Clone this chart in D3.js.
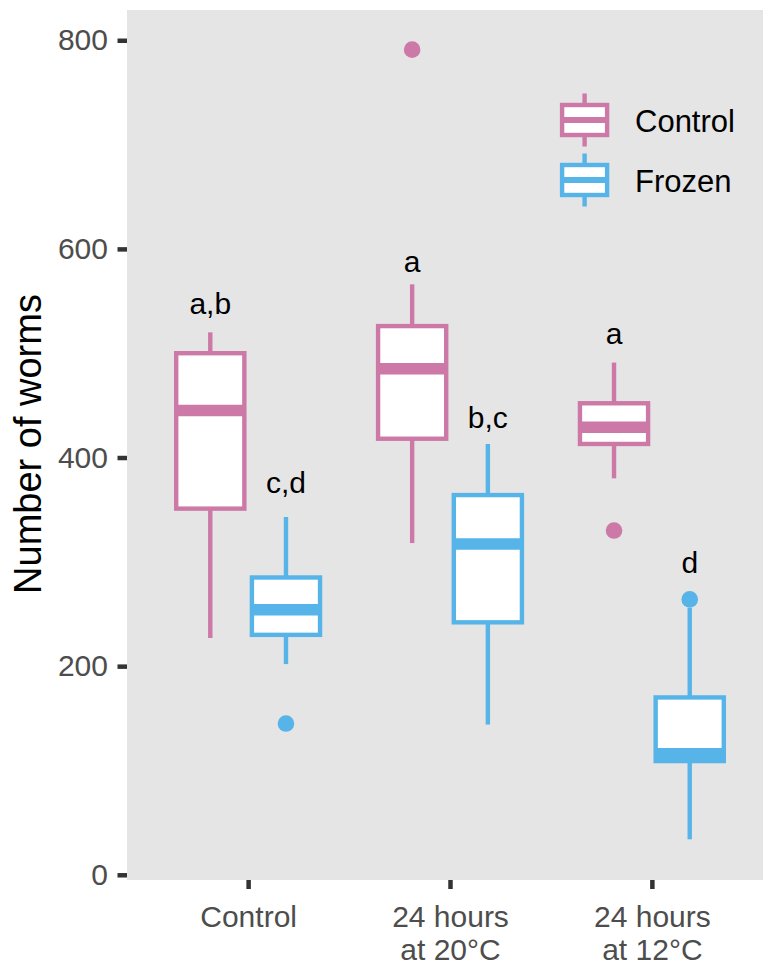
<!DOCTYPE html>
<html>
<head>
<meta charset="utf-8">
<script src="https://cdn.jsdelivr.net/npm/d3@7"></script>
<style>
  html, body { margin: 0; padding: 0; background: #fff; }
  svg { display: block; font-family: "Liberation Sans", Arial, sans-serif; }
</style>
</head>
<body>
<svg id="chart" width="763" height="968"></svg>
<script>
// Treatments on the x axis and the two worm groups
const categories = ["Control", "24 hours\nat 20°C", "24 hours\nat 12°C"];
const groups = ["Control", "Frozen"];
const groupColors = ["#CC79A7", "#56B4E9"];

// Box statistics per treatment (lower whisker, Q1, median, Q3, upper whisker)
const controlLower  = [227, 318, 380];
const controlQ1     = [351, 418, 413];
const controlMedian = [445, 485, 429];
const controlQ3     = [500, 526, 452];
const controlUpper  = [520, 566, 491];
const controlOutliers = [[], [791], [330]];

const frozenLower  = [202, 144, 34];
const frozenQ1     = [230, 242, 109];
const frozenMedian = [254, 317, 116];
const frozenQ3     = [285, 364, 170];
const frozenUpper  = [343, 413, 256];
const frozenOutliers = [[145], [], [264]];

// Significance letters and the height they sit at
const controlLetters = ["a,b", "a", "a"];
const frozenLetters  = ["c,d", "b,c", "d"];
const controlLetterY = [538, 578, 509];
const frozenLetterY  = [366, 428, 289];

const yTicks = [0, 200, 400, 600, 800];

const seriesStats = [
  { lower: controlLower, q1: controlQ1, med: controlMedian, q3: controlQ3, upper: controlUpper,
    out: controlOutliers, letters: controlLetters, letterY: controlLetterY },
  { lower: frozenLower, q1: frozenQ1, med: frozenMedian, q3: frozenQ3, upper: frozenUpper,
    out: frozenOutliers, letters: frozenLetters, letterY: frozenLetterY }
];

const boxes = [];
seriesStats.forEach((s, gi) => {
  categories.forEach((c, ci) => {
    boxes.push({
      cat: c, group: groups[gi], color: groupColors[gi],
      lower: s.lower[ci], q1: s.q1[ci], med: s.med[ci], q3: s.q3[ci], upper: s.upper[ci],
      out: s.out[ci], letter: s.letters[ci], letterY: s.letterY[ci]
    });
  });
});

const svg = d3.select("#chart");
const panel = { left: 127, right: 773, top: 10, bottom: 880 };

const x = d3.scalePoint().domain(categories).range([panel.left, panel.right]).padding(0.6);
const dodge = d3.scaleBand().domain(groups)
  .range([-0.375 * x.step(), 0.375 * x.step()]).padding(0);
const boxW = dodge.bandwidth() * 0.9;
const y = d3.scaleLinear().domain([-5, 829]).range([panel.bottom, panel.top]);

const lw = 4.4;      // outline width
const medW = 11.5;   // median line width

// Panel background
svg.append("rect")
  .attr("x", panel.left).attr("y", panel.top)
  .attr("width", panel.right - panel.left).attr("height", panel.bottom - panel.top)
  .attr("fill", "#E5E5E5");

// Y axis
const yAxis = d3.axisLeft(y).tickValues(yTicks).tickSize(9.5).tickPadding(9.5);
const gy = svg.append("g").attr("transform", `translate(${panel.left},0)`).call(yAxis);
gy.select(".domain").remove();
gy.selectAll(".tick line").attr("stroke", "#333333").attr("stroke-width", 4.5);
gy.selectAll(".tick text")
  .attr("fill", "#4D4D4D").attr("font-size", 30)
  .attr("font-family", "'Liberation Sans', Arial, sans-serif");

// X axis
const xAxis = d3.axisBottom(x).tickSize(9).tickFormat("");
const gx = svg.append("g").attr("transform", `translate(0,${panel.bottom})`).call(xAxis);
gx.select(".domain").remove();
gx.selectAll(".tick line").attr("stroke", "#333333").attr("stroke-width", 4.5);
gx.selectAll(".tick").each(function(d) {
  const t = d3.select(this).append("text")
    .attr("fill", "#4D4D4D").attr("font-size", 30)
    .attr("text-anchor", "middle")
    .attr("font-family", "'Liberation Sans', Arial, sans-serif");
  d.split("\n").forEach((line, i) => {
    t.append("tspan").attr("x", 0).attr("y", 46.7 + i * 33.3).text(line);
  });
});

// Y title
svg.append("text")
  .attr("transform", `translate(41,${(panel.top + panel.bottom) / 2 - 1}) rotate(-90)`)
  .attr("text-anchor", "middle")
  .attr("font-size", 38).attr("fill", "#000")
  .text("Number of worms");

const plot = svg.append("g");
const cx = d => x(d.cat) + dodge(d.group) + dodge.bandwidth() / 2;

const gBox = plot.selectAll("g.box").data(boxes).join("g").attr("class", "box");

// Outliers
gBox.each(function(d) {
  d3.select(this).selectAll("circle").data(d.out).join("circle")
    .attr("cx", cx(d)).attr("cy", v => y(v)).attr("r", 8.3)
    .attr("fill", d.color);
});

// Whiskers
gBox.append("line")
  .attr("x1", cx).attr("x2", cx)
  .attr("y1", d => y(d.q3)).attr("y2", d => y(d.upper))
  .attr("stroke", d => d.color).attr("stroke-width", lw);
gBox.append("line")
  .attr("x1", cx).attr("x2", cx)
  .attr("y1", d => y(d.q1)).attr("y2", d => y(d.lower))
  .attr("stroke", d => d.color).attr("stroke-width", lw);

// Boxes
gBox.append("rect")
  .attr("x", d => cx(d) - boxW / 2).attr("width", boxW)
  .attr("y", d => y(d.q3)).attr("height", d => y(d.q1) - y(d.q3))
  .attr("fill", "#fff").attr("stroke", d => d.color).attr("stroke-width", lw);

// Medians
gBox.append("line")
  .attr("x1", d => cx(d) - boxW / 2).attr("x2", d => cx(d) + boxW / 2)
  .attr("y1", d => y(d.med)).attr("y2", d => y(d.med))
  .attr("stroke", d => d.color).attr("stroke-width", medW);

// Letters
gBox.append("text")
  .attr("x", cx).attr("y", d => y(d.letterY))
  .attr("text-anchor", "middle").attr("font-size", 30).attr("fill", "#000")
  .text(d => d.letter);

// Legend
const legend = svg.append("g");
const keyCx = 584.6, keyW = 45, keyH = 30;
groups.forEach((g, i) => {
  const cy = 120 + i * 60;
  const k = legend.append("g");
  k.append("line").attr("x1", keyCx).attr("x2", keyCx)
    .attr("y1", cy - 26.5).attr("y2", cy + 26.5)
    .attr("stroke", groupColors[i]).attr("stroke-width", lw);
  k.append("rect").attr("x", keyCx - keyW / 2).attr("y", cy - keyH / 2)
    .attr("width", keyW).attr("height", keyH)
    .attr("fill", "#fff").attr("stroke", groupColors[i]).attr("stroke-width", lw);
  k.append("line").attr("x1", keyCx - keyW / 2).attr("x2", keyCx + keyW / 2)
    .attr("y1", cy).attr("y2", cy)
    .attr("stroke", groupColors[i]).attr("stroke-width", 6);
  k.append("text").attr("x", 635).attr("y", cy + 11.5)
    .attr("font-size", 31).attr("fill", "#000").text(g);
});
</script>
</body>
</html>
